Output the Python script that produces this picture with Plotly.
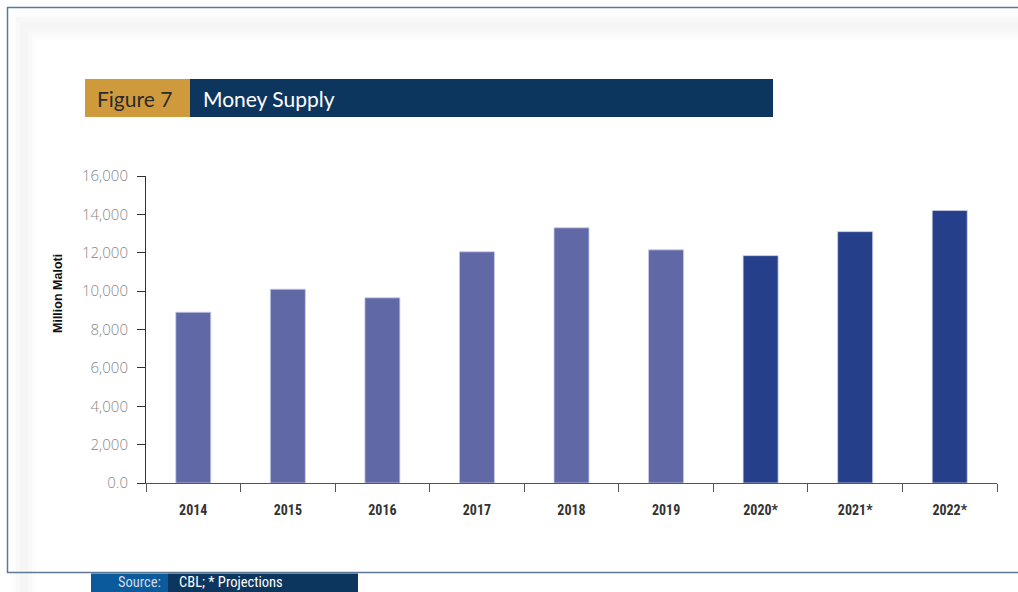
import plotly.graph_objects as go

# Money supply, million maloti (years marked * are projections)
years = ["2014", "2015", "2016", "2017", "2018", "2019", "2020*", "2021*", "2022*"]
money_supply = [8900, 10100, 9650, 12050, 13300, 12150, 11850, 13100, 14200]
is_projection = [False, False, False, False, False, False, True, True, True]

y_ticks = [0, 2000, 4000, 6000, 8000, 10000, 12000, 14000, 16000]
y_tick_text = ["0.0", "2,000", "4,000", "6,000", "8,000", "10,000", "12,000", "14,000", "16,000"]

W, H = 1018, 592
HIST_COLOR = "#6068a6"
PROJ_COLOR = "#253f8b"
NARROW = "Liberation Sans Narrow, Arial Narrow, Roboto Condensed, sans-serif"


def px(x):
    return x / W


def py(y):
    return 1 - y / H


bar_colors = [PROJ_COLOR if p else HIST_COLOR for p in is_projection]

fig = go.Figure(
    go.Bar(
        x=years,
        y=money_supply,
        width=0.37,
        marker=dict(color=bar_colors, line=dict(color="#c9cce6", width=0.8)),
        hoverinfo="x+y",
    )
)

shapes = []

# soft shadow around the inner panel
shadow_steps = [
    (12, 12, "#fcfcfc"),
    (16, 17, "#f8f8f8"),
    (20, 22, "#f5f5f5"),
    (24, 27, "#f6f6f6"),
    (28, 32, "#f9f9f9"),
    (32, 36, "#fcfcfc"),
]
for x0, y0, col in shadow_steps:
    shapes.append(dict(type="rect", xref="paper", yref="paper",
                       x0=px(x0), x1=1.0, y0=0.0, y1=py(y0),
                       fillcolor=col, line=dict(width=0), layer="below"))
shapes.append(dict(type="rect", xref="paper", yref="paper",
                   x0=px(36), x1=1.0, y0=0.0, y1=py(40),
                   fillcolor="white", line=dict(width=0), layer="below"))

# frame lines
frame_col = "#5c7896"
shapes += [
    dict(type="line", xref="paper", yref="paper", x0=px(7), x1=1.0, y0=py(7.5), y1=py(7.5),
         line=dict(color=frame_col, width=1.5)),
    dict(type="line", xref="paper", yref="paper", x0=px(7.5), x1=px(7.5), y0=py(7), y1=py(573),
         line=dict(color=frame_col, width=1.5)),
    dict(type="line", xref="paper", yref="paper", x0=px(7), x1=1.0, y0=py(572.5), y1=py(572.5),
         line=dict(color=frame_col, width=1.5)),
]

# header boxes
shapes += [
    dict(type="rect", xref="paper", yref="paper", x0=px(85), x1=px(190), y0=py(117), y1=py(79),
         fillcolor="#cf9a3c", line=dict(width=0)),
    dict(type="rect", xref="paper", yref="paper", x0=px(190), x1=px(773), y0=py(117), y1=py(79),
         fillcolor="#0d365e", line=dict(width=0)),
]

# source strip
shapes += [
    dict(type="rect", xref="paper", yref="paper", x0=px(91), x1=px(168), y0=0.0, y1=py(573.5),
         fillcolor="#0a5a9c", line=dict(width=0)),
    dict(type="rect", xref="paper", yref="paper", x0=px(168), x1=px(358), y0=0.0, y1=py(573.5),
         fillcolor="#0d365e", line=dict(width=0)),
]

annotations = [
    dict(text="Figure 7", xref="paper", yref="paper", x=px(95), y=py(99),
         xanchor="left", yanchor="middle", showarrow=False,
         font=dict(family="Lato, Open Sans, sans-serif", size=21, color="#2b2b2b")),
    dict(text="Money Supply", xref="paper", yref="paper", x=px(201), y=py(99),
         xanchor="left", yanchor="middle", showarrow=False,
         font=dict(family="Lato, Open Sans, sans-serif", size=21, color="white")),
    dict(text="Million Maloti", xref="paper", yref="paper", x=px(58), y=py(294),
         xanchor="center", yanchor="middle", showarrow=False, textangle=-90,
         font=dict(family="Liberation Sans, Arial, sans-serif", size=12.5, color="#111111",
                   weight="bold")),
    dict(text="Source:", xref="paper", yref="paper", x=px(163), y=py(582),
         xanchor="right", yanchor="middle", showarrow=False,
         font=dict(family=NARROW, size=14.5, color="#d3dbe4")),
    dict(text="CBL; * Projections", xref="paper", yref="paper", x=px(177), y=py(582),
         xanchor="left", yanchor="middle", showarrow=False,
         font=dict(family=NARROW, size=14.5, color="white")),
]

fig.update_layout(
    width=W,
    height=H,
    margin=dict(l=0, r=0, t=0, b=0, autoexpand=False),
    paper_bgcolor="white",
    plot_bgcolor="rgba(0,0,0,0)",
    showlegend=False,
    shapes=shapes,
    annotations=annotations,
    xaxis=dict(
        domain=[px(146), px(997)],
        range=[-0.5, 8.5],
        showline=True, linecolor="#555555", linewidth=1,
        ticks="outside", tickson="boundaries", ticklen=8, tickcolor="#555555", tickwidth=1,
        ticklabelstandoff=14,
        tickfont=dict(family=NARROW, size=14, color="#333333", weight="bold"),
        showgrid=False, zeroline=False, fixedrange=True, automargin=False,
    ),
    yaxis=dict(
        domain=[py(483), py(176)],
        range=[0, 16000],
        tickvals=y_ticks, ticktext=y_tick_text,
        showline=True, linecolor="#333333", linewidth=1,
        ticks="outside", ticklen=8, tickcolor="#333333", tickwidth=1,
        ticklabelstandoff=6,
        tickfont=dict(family="Open Sans, sans-serif", size=15, color="#878787", weight=300),
        showgrid=False, zeroline=False, fixedrange=True, automargin=False,
    ),
)

fig.write_html("out.html", config={"displayModeBar": False})

# drop the browser's default page margin so the figure sits flush in the window
with open("out.html", encoding="utf-8") as f:
    page = f.read()
page = page.replace(
    "<head>",
    "<head><style>html,body{margin:0;padding:0;overflow:hidden;}</style>",
    1,
)
with open("out.html", "w", encoding="utf-8") as f:
    f.write(page)
